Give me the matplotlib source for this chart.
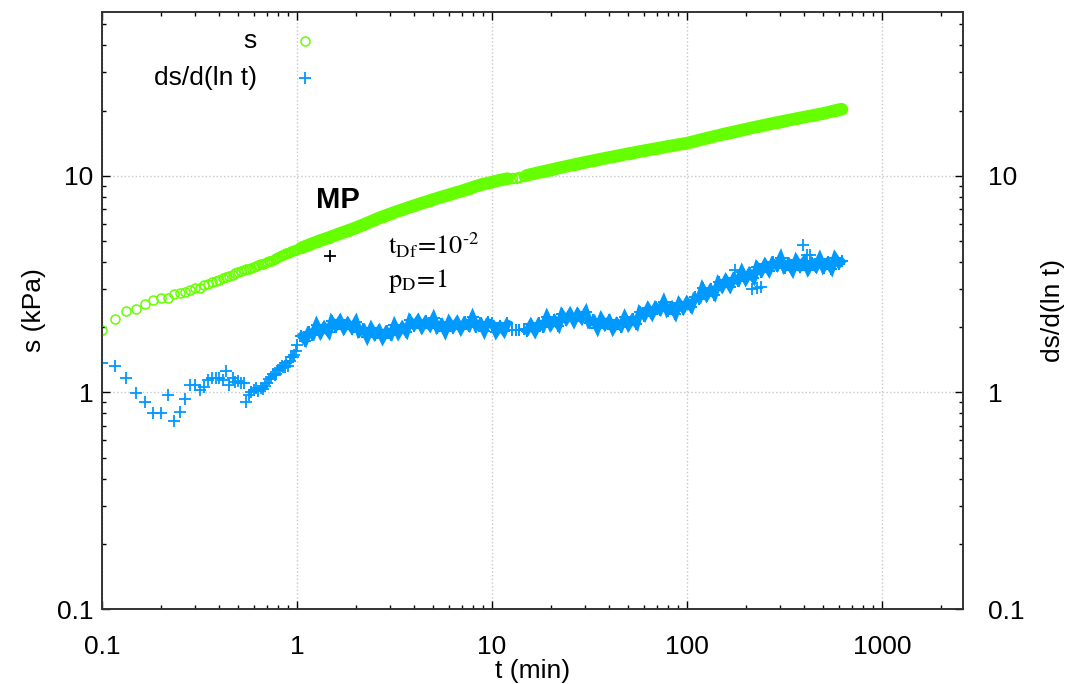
import matplotlib
matplotlib.use("Agg")
import matplotlib.pyplot as plt
import numpy as np

plt.rcParams['font.family'] = ['Liberation Sans', 'DejaVu Sans']
plt.rcParams['mathtext.fontset'] = 'stix'

# early record, one sample per second (t in min)
t_early = [0.100, 0.117, 0.133, 0.150, 0.167, 0.183, 0.200, 0.217, 0.233, 0.250,
           0.267, 0.283, 0.300, 0.317, 0.333, 0.350, 0.367, 0.383, 0.400, 0.417,
           0.433, 0.450, 0.467, 0.483, 0.500, 0.517, 0.533, 0.550, 0.567, 0.583,
           0.600, 0.617, 0.633, 0.650, 0.667, 0.683, 0.700, 0.717, 0.733, 0.750,
           0.767, 0.783, 0.800, 0.817, 0.833, 0.850, 0.867, 0.883, 0.900, 0.917,
           0.933, 0.950, 0.967, 0.983, 1.000]
s_early = [1.95, 2.19, 2.37, 2.42, 2.55, 2.66, 2.73, 2.74, 2.84, 2.88,
           2.91, 2.96, 3.02, 3.04, 3.12, 3.17, 3.22, 3.27, 3.30, 3.36,
           3.40, 3.45, 3.50, 3.55, 3.60, 3.63, 3.66, 3.70, 3.73, 3.77,
           3.80, 3.83, 3.86, 3.90, 3.93, 3.95, 3.98, 4.02, 4.05, 4.08,
           4.12, 4.16, 4.20, 4.25, 4.29, 4.32, 4.35, 4.38, 4.42, 4.45,
           4.48, 4.50, 4.52, 4.55, 4.58]
ds_early = [1.37, 1.32, 1.17, 0.99, 0.90, 0.80, 0.80, 0.97, 0.74, 0.81,
            0.93, 1.08, 1.08, 1.03, 1.06, 1.14, 1.16, 1.17, 1.16, 1.14,
            1.25, 1.08, 1.16, 1.12, 1.13, 1.10, 1.10, 0.90, 0.97, 1.00,
            1.03, 1.05, 1.02, 1.05, 1.04, 1.07, 1.10, 1.15, 1.18, 1.21,
            1.20, 1.22, 1.27, 1.30, 1.33, 1.31, 1.31, 1.36, 1.33, 1.40,
            1.45, 1.45, 1.48, 1.55, 1.65]

# later record
t_late = [1.05, 1.10, 1.15, 1.20, 1.26, 1.32, 1.38, 1.45, 1.51, 1.58, 1.66, 1.74, 1.82,
          1.91, 2.00, 2.09, 2.19, 2.29, 2.40, 2.51, 2.63, 2.75, 2.88, 3.02, 3.16, 3.31,
          3.47, 3.63, 3.80, 3.98, 4.17, 4.37, 4.57, 4.79, 5.01, 5.25, 5.50, 5.75, 6.03,
          6.31, 6.61, 6.92, 7.24, 7.59, 7.94, 8.32, 8.71, 9.12, 9.55,
          10.0, 10.5, 11.0, 11.5, 12.0, 12.6, 13.2, 13.8, 14.5, 15.1, 15.8, 16.6, 17.4,
          18.2, 19.1, 20.0, 20.9, 21.9, 22.9, 24.0, 25.1, 26.3, 27.5, 28.8, 30.2, 31.6,
          33.1, 34.7, 36.3, 38.0, 39.8, 41.7, 43.7, 45.7, 47.9, 50.1, 52.5, 55.0, 57.5,
          60.3, 63.1, 66.1, 69.2, 72.4, 75.9, 79.4, 83.2, 87.1, 91.2, 95.5,
          100, 105, 110, 115, 120, 126, 132, 138, 145, 151, 158, 166, 174, 182, 191,
          200, 209, 219, 229, 240, 251, 263, 275, 288, 302, 316, 331, 347, 363, 380,
          398, 417, 437, 457, 479, 501, 525, 550, 575, 603, 620]
s_late = [4.65, 4.72, 4.80, 4.87, 4.95, 5.03, 5.10, 5.18, 5.25, 5.33, 5.42, 5.50, 5.58,
          5.67, 5.76, 5.85, 5.95, 6.05, 6.16, 6.27, 6.38, 6.48, 6.58, 6.68, 6.78, 6.88,
          6.98, 7.08, 7.18, 7.28, 7.38, 7.48, 7.58, 7.68, 7.78, 7.88, 7.98, 8.08, 8.18,
          8.28, 8.38, 8.48, 8.60, 8.72, 8.84, 8.96, 9.08, 9.18, 9.26,
          9.35, 9.45, 9.55, 9.62, 9.70, 9.75, 9.80, 9.85, 9.95, 10.05, 10.15, 10.25, 10.35,
          10.45, 10.55, 10.65, 10.75, 10.85, 10.95, 11.05, 11.15, 11.25, 11.35, 11.45, 11.55, 11.65,
          11.75, 11.85, 11.95, 12.05, 12.15, 12.25, 12.35, 12.45, 12.55, 12.65, 12.75, 12.85, 12.95,
          13.05, 13.15, 13.25, 13.35, 13.45, 13.55, 13.65, 13.75, 13.85, 13.95, 14.05,
          14.15, 14.30, 14.45, 14.60, 14.75, 14.90, 15.05, 15.20, 15.35, 15.50, 15.65, 15.80, 15.95, 16.10, 16.25,
          16.40, 16.55, 16.70, 16.85, 17.00, 17.15, 17.30, 17.45, 17.60, 17.75, 17.90, 18.05, 18.20, 18.35, 18.50,
          18.65, 18.80, 18.95, 19.10, 19.25, 19.40, 19.60, 19.80, 20.00, 20.20, 20.30]
ds_late = [1.82, 1.73, 1.90, 1.84, 2.05, 1.88, 2.01, 1.89, 2.13, 2.01, 2.15, 1.97, 2.10,
           1.97, 2.12, 1.89, 1.96, 1.80, 1.98, 1.84, 1.94, 1.78, 1.92, 1.84, 2.04, 1.87,
           2.01, 1.90, 2.15, 2.03, 2.16, 1.99, 2.13, 2.02, 2.20, 1.98, 2.07, 1.91, 2.12,
           1.99, 2.12, 1.96, 2.11, 2.02, 2.22, 2.01, 2.09, 1.92, 2.11,
           2.08, 1.89, 2.02, 1.91, 2.08, 1.94, 1.95, 1.95, 1.96, 1.92, 2.06, 1.91, 2.08,
           2.01, 2.23, 2.04, 2.16, 2.03, 2.29, 2.16, 2.31, 2.13, 2.31, 2.18, 2.35, 2.09,
           2.16, 1.98, 2.19, 2.04, 2.15, 1.96, 2.10, 2.01, 2.22, 2.04, 2.18, 2.07, 2.36,
           2.25, 2.45, 2.29, 2.49, 2.39, 2.62, 2.37, 2.49, 2.31, 2.58, 2.43,
           2.62, 2.47, 2.75, 2.70, 3.02, 2.79, 2.99, 2.83, 3.22, 3.06, 3.31, 3.08, 3.37, 3.26, 3.61,
           3.32, 3.56, 3.36, 3.80, 3.61, 3.90, 3.64, 3.98, 3.82, 4.18, 3.76, 3.94, 3.66, 4.07, 3.80,
           4.04, 3.69, 3.97, 3.78, 4.14, 3.76, 3.98, 3.72, 4.18, 3.92, 4.02]

# a few stray derivative points outside the band
t_stray = [176, 215, 228, 240, 394, 410, 425]
ds_stray = [3.66, 3.00, 3.02, 3.05, 4.77, 4.30, 4.30]

# match point
mp_t, mp_s = 1.47, 4.25

green = '#66ff00'
blue = '#0099ff'

fig = plt.figure(figsize=(10.66, 6.84), dpi=100)
ax = fig.add_axes([0.0957, 0.1096, 0.8077, 0.8729])
ax.set_xscale('log')
ax.set_yscale('log')
ax.set_xlim(0.1, 2600)
ax.set_ylim(0.1, 57)

ax.grid(True, which='major', color='#c8c8c8', linestyle=':', linewidth=1.0)
ax.set_axisbelow(True)

t_late_a = np.array(t_late)
s_late_a = np.array(s_late)
ds_late_a = np.array(ds_late)
# densely sampled part: overlapping symbols merge into a solid band
# (sparser stretch around 12-15 min)
for m in (t_late_a <= 12.0, t_late_a >= 15.1):
    ax.plot(t_late_a[m], s_late_a[m], '-', color=green, lw=9,
            solid_capstyle='round', zorder=3)
    ax.plot(t_late_a[m], ds_late_a[m], '-', color=blue, lw=5.5,
            solid_joinstyle='miter', zorder=4)
ax.plot(t_early, s_early, 'o', color=green, mfc='none', ms=6.5, mew=1.1, zorder=3)
ax.plot(t_late, s_late, 'o', color=green, mfc='none', ms=7, mew=1.3, zorder=3)

ax.plot(t_early, ds_early, '+', color=blue, ms=9, mew=1.3, zorder=4)
ax.plot(t_late, ds_late, '+', color=blue, ms=8.5, mew=1.4, zorder=4)
ax.plot(t_stray, ds_stray, '+', color=blue, ms=9, mew=1.3, zorder=4)

ax.plot(mp_t, mp_s, '+', color='black', ms=8, mew=1.3, zorder=5)
ax.text(1.25, 7.7, 'MP', fontsize=21, fontweight='bold', ha='left', va='center')
ax.text(2.93, 4.78, r'$\mathrm{t_{Df}\!=\!10^{\text{-}2}}$', fontsize=19, ha='left', va='center')
ax.text(2.93, 3.26, r'$\mathrm{p_{D}\!=\!1}$', fontsize=19, ha='left', va='center')

# gnuplot-like key: text right aligned, symbol after it
ax.text(0.180, 0.951, 's', transform=ax.transAxes, fontsize=19, ha='right', va='center')
ax.text(0.180, 0.889, 'ds/d(ln t)', transform=ax.transAxes, fontsize=19, ha='right', va='center')
ax.plot([0.236], [0.951], 'o', color=green, mfc='none', ms=6.5, mew=1.1, transform=ax.transAxes)
ax.plot([0.236], [0.889], '+', color=blue, ms=9, mew=1.3, transform=ax.transAxes)

xticks = [0.1, 1, 10, 100, 1000]
xlabels = ['0.1', '1', '10', '100', '1000']
yticks = [0.1, 1, 10]
ylabels = ['0.1', '1', '10']

ax.set_xticks(xticks)
ax.set_xticklabels(xlabels)
ax.set_yticks(yticks)
ax.set_yticklabels(ylabels)
ax.tick_params(which='major', direction='in', length=6, width=1, labelsize=19, top=True)
ax.tick_params(which='minor', direction='in', length=3, width=1, top=True)
ax.tick_params(axis='x', pad=19)
ax.tick_params(axis='y', pad=6)
ax.set_xlabel('t (min)', fontsize=19, labelpad=0)
ax.set_ylabel('s (kPa)', fontsize=19, labelpad=8)

ax2 = ax.twinx()
ax2.set_yscale('log')
ax2.set_ylim(ax.get_ylim())
ax2.set_yticks(yticks)
ax2.set_yticklabels(ylabels)
ax2.tick_params(which='major', direction='in', length=6, width=1, labelsize=19, pad=18)
ax2.tick_params(which='minor', direction='in', length=3, width=1)
ax2.set_ylabel('ds/d(ln t)', fontsize=19, labelpad=12)

for a in (ax, ax2):
    for sp in a.spines.values():
        sp.set_linewidth(1.2)
        sp.set_color('#333333')

fig.savefig('out.png', dpi=100)
